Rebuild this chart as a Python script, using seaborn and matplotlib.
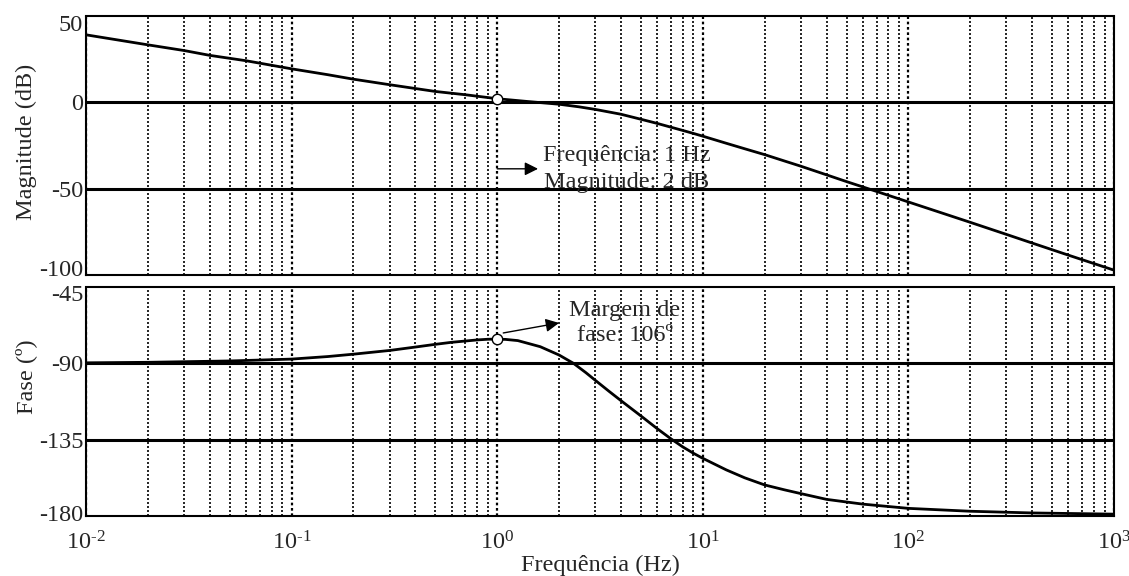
import numpy as np
import pandas as pd
import matplotlib
matplotlib.use("Agg")
import matplotlib.pyplot as plt
import matplotlib.transforms as mtrans
import seaborn as sns
from matplotlib.ticker import LogLocator, FixedLocator, NullFormatter, FixedFormatter

# ---- data ----
mag_freq = [0.01, 0.02, 0.03, 0.04, 0.06, 0.1, 0.15, 0.2, 0.3, 0.4, 0.5, 0.7, 1.0, 1.4,
            2.0, 2.5, 3.0, 4.0, 5.0, 6.0, 7.0, 8.0, 9.0, 10.0, 13.0, 16.0, 20.0, 25.0, 30.0,
            40.0, 50.0, 70.0, 100.0, 150.0, 200.0, 300.0, 400.0, 600.0, 1000.0]
mag_db = [39.1, 33.3, 30.0, 27.2, 24.1, 19.4, 16.0, 13.4, 10.2, 8.0, 6.3, 4.4, 2.1, 0.5,
          -1.1, -2.6, -4.1, -6.9, -9.8, -12.2, -14.4, -16.3, -18.0, -19.6, -23.7, -26.9,
          -30.3, -34.0, -37.0, -42.0, -45.9, -51.6, -57.7, -64.6, -69.5, -76.5, -81.5,
          -88.5, -97.2]

ph_freq = [0.01, 0.02, 0.05, 0.1, 0.15, 0.2, 0.3, 0.4, 0.5, 0.6, 0.8, 0.9, 1.0, 1.1, 1.26, 1.62,
           2.0, 2.35, 2.7, 3.0, 3.5, 4.0, 5.0, 6.0, 7.0, 8.0, 9.0, 10.0, 13.0, 16.0, 20.0, 25.0,
           30.0, 40.0, 60.0, 100.0, 200.0, 400.0, 1000.0]
ph_deg = [-89.7, -89.4, -88.6, -87.5, -86.0, -84.6, -82.4, -80.4, -78.8, -77.6, -76.2, -75.8,
          -75.7, -75.9, -76.6, -80.2, -85.1, -90.0, -95.5, -100.0, -106.5, -112.0, -121.0,
          -128.5, -134.5, -139.3, -143.0, -146.0, -152.8, -157.5, -161.7, -164.6, -166.8,
          -170.2, -173.0, -175.5, -177.2, -178.2, -178.9]

mag_ticks = [50, 0, -50, -100]
ph_ticks = [-45, -90, -135, -180]
x_ticks = [1e-2, 1e-1, 1e0, 1e1, 1e2, 1e3]
x_tick_labels = ["10$^{\\text{-}2}$", "10$^{\\text{-}1}$", "10$^{0}$",
                 "10$^{1}$", "10$^{2}$", "10$^{3}$"]

marker_f = 1.0
marker_mag = 2.1
marker_ph = -75.7

mag_text = "Frequência: 1 Hz\nMagnitude: 2 dB"
ph_text = "Margem de\nfase: 106º"

# ---- style ----
sns.set_style("white")
plt.rcParams['font.family'] = ['Liberation Serif', 'DejaVu Serif']
plt.rcParams['mathtext.fontset'] = 'custom'
plt.rcParams['mathtext.rm'] = 'Liberation Serif'
plt.rcParams['mathtext.it'] = 'Liberation Serif:italic'
plt.rcParams['mathtext.bf'] = 'Liberation Serif:bold'
plt.rcParams['axes.unicode_minus'] = False

FS = 17.5

fig = plt.figure(figsize=(11.29, 5.76), dpi=100)
ax1 = fig.add_axes([86/1129, 1-275/576, 1028/1129, 259/576])
ax2 = fig.add_axes([86/1129, 1-516/576, 1028/1129, 229/576])

df_mag = pd.DataFrame({"f": mag_freq, "m": mag_db})
df_ph = pd.DataFrame({"f": ph_freq, "p": ph_deg})

for ax in (ax1, ax2):
    ax.set_xscale('log')

sns.lineplot(data=df_mag, x="f", y="m", ax=ax1, color='black', lw=2.0,
             estimator=None, sort=False, zorder=5)
sns.lineplot(data=df_ph, x="f", y="p", ax=ax2, color='black', lw=2.0,
             estimator=None, sort=False, zorder=5)

ax1.set_ylim(-100, 50)
ax2.set_ylim(-180, -45)

for ax, yt in ((ax1, mag_ticks), (ax2, ph_ticks)):
    ax.set_xlim(1e-2, 1e3)
    ax.xaxis.set_major_locator(FixedLocator(x_ticks))
    ax.xaxis.set_major_formatter(FixedFormatter(x_tick_labels))
    ax.xaxis.set_minor_locator(LogLocator(base=10, subs=np.arange(2, 10), numticks=20))
    ax.xaxis.set_minor_formatter(NullFormatter())
    ax.set_yticks(yt)
    ax.set_yticklabels([str(v) for v in yt], fontsize=FS)
    ax.tick_params(axis='both', which='both', direction='in', length=0, labelsize=FS, pad=2)
    ax.grid(True, which='major', axis='x', color='black', linestyle=(0, (1.2, 1.2)), lw=1.6)
    ax.grid(True, which='minor', axis='x', color='black', linestyle=(0, (1.2, 1.2)), lw=1.2)
    for v in yt[1:-1]:
        ax.axhline(v, color='black', lw=2.2, zorder=3)
    for s in ax.spines.values():
        s.set_visible(True)
        s.set_color('black')
        s.set_linestyle((0, (1.5, 1.0)))
        s.set_linewidth(1.5)
    ax.set_xlabel("")
    ax.set_ylabel("")

ax2.tick_params(axis='y', length=9, width=1.2, color='#aaaaaa', direction='in')

# nudge first/last y tick labels inward like the reference
def nudge(ax, offsets):
    for lab, dy in zip(ax.get_yticklabels(), offsets):
        if dy:
            lab.set_transform(lab.get_transform() +
                              mtrans.ScaledTranslation(0, dy / 100, fig.dpi_scale_trans))

nudge(ax1, [-7, 0, 0, 7])
nudge(ax2, [-6, 0, 0, 3])

ax1.tick_params(axis='x', labelbottom=False)
ax2.tick_params(axis='x', labelsize=FS, pad=11)

ax1.set_ylabel("Magnitude (dB)", fontsize=FS)
ax1.yaxis.set_label_coords(-0.048, 0.513)
ax2.set_ylabel("Fase (º)", fontsize=FS)
ax2.yaxis.set_label_coords(-0.048, 0.607)
ax2.set_xlabel("Frequência (Hz)", fontsize=FS, labelpad=0)

# markers
ax1.plot([marker_f], [marker_mag], 'o', ms=7.5, mfc='white', mec='black', mew=1.0, zorder=8)
ax2.plot([marker_f], [marker_ph], 'o', ms=7.5, mfc='white', mec='black', mew=1.0, zorder=8)

# annotations
ax1.annotate("", xy=(1.58, -38.5), xytext=(1.0, -38.5),
             arrowprops=dict(arrowstyle='-|>', color='black', lw=1.0, mutation_scale=20,
                             shrinkA=0, shrinkB=0), zorder=9)
ax1.text(4.27, -38.5, mag_text, ha='center', va='center', fontsize=FS,
         linespacing=1.35, zorder=9)

ax2.annotate("", xy=(2.0, -66.2), xytext=(1.07, -72.1),
             arrowprops=dict(arrowstyle='-|>', color='black', lw=1.0, mutation_scale=20,
                             shrinkA=0, shrinkB=0), zorder=9)
ax2.text(4.18, -66.2, ph_text, ha='center', va='center', fontsize=FS,
         linespacing=1.25, zorder=9)

fig.savefig("out.png", dpi=100)
